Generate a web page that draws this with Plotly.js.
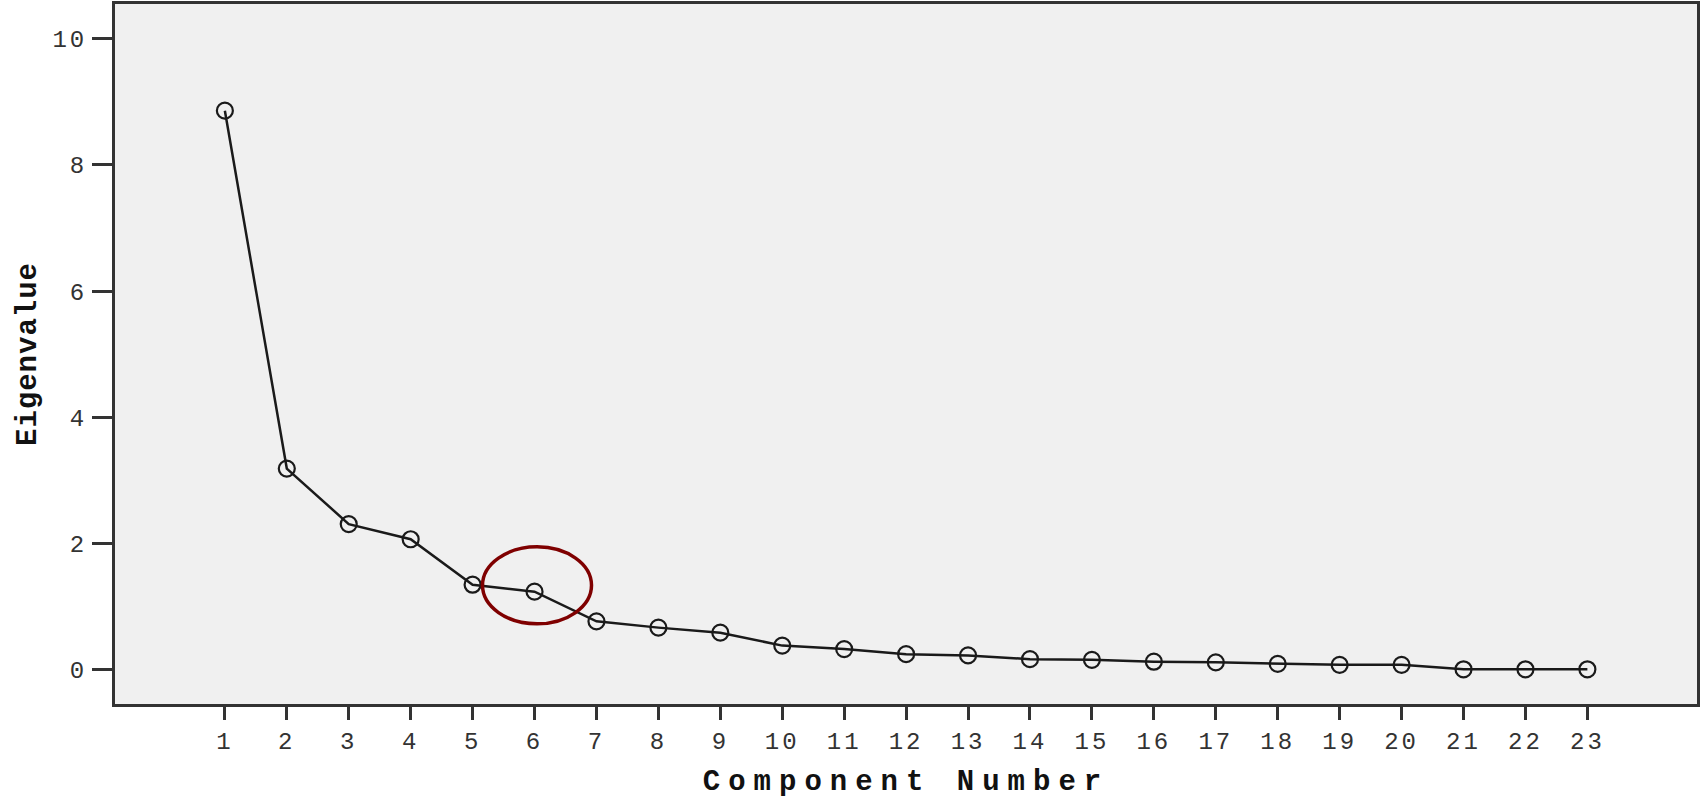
<!DOCTYPE html>
<html>
<head>
<meta charset="utf-8">
<script src="https://cdn.plot.ly/plotly-3.0.1.min.js"></script>
<style>
  html, body { margin: 0; padding: 0; background: #ffffff; }
  #chart { width: 1704px; height: 799px; }
  .xtick text, .ytick text { letter-spacing: 3px; }
  .g-xtitle text { letter-spacing: 8px; }
  .g-ytitle text { letter-spacing: 1px; }
</style>
</head>
<body>
<div id="chart"></div>
<script>
const componentNumber = [1, 2, 3, 4, 5, 6, 7, 8, 9, 10, 11, 12, 13, 14, 15, 16, 17, 18, 19, 20, 21, 22, 23];
const eigenvalue = [8.86, 3.19, 2.31, 2.07, 1.35, 1.24, 0.77, 0.67, 0.59, 0.385, 0.33, 0.25, 0.23, 0.17, 0.16, 0.13, 0.12, 0.095, 0.08, 0.08, 0.01, 0.01, 0.01];
const yTickValues = [0, 2, 4, 6, 8, 10];
const xTickLabels = componentNumber.map(String);
const highlightedComponent = 6;
const highlightedEigenvalue = 1.34;

const trace = {
  x: componentNumber,
  y: eigenvalue,
  type: 'scatter',
  mode: 'lines+markers',
  line: { color: '#1a1a1a', width: 2.5 },
  marker: { symbol: 'circle-open', size: 16, color: '#1a1a1a', line: { width: 2.2, color: '#1a1a1a' } },
  hoverinfo: 'x+y',
  showlegend: false
};

const tickFont = { family: 'Liberation Mono, DejaVu Sans Mono, monospace', size: 24, color: '#333333' };
const titleFont = { family: 'Liberation Mono, DejaVu Sans Mono, monospace', size: 29, color: '#111111', weight: 'bold' };

const layout = {
  width: 1704,
  height: 799,
  paper_bgcolor: '#ffffff',
  plot_bgcolor: '#f0f0f0',
  margin: { l: 115, r: 7, t: 4, b: 95 },
  showlegend: false,
  xaxis: {
    range: [-0.774, 24.77],
    tickmode: 'array',
    tickvals: componentNumber,
    ticktext: xTickLabels,
    ticks: 'outside',
    ticklen: 13,
    tickwidth: 3,
    tickcolor: '#333333',
    showgrid: false,
    zeroline: false,
    showline: true,
    linewidth: 3,
    linecolor: '#333333',
    mirror: true,
    tickfont: tickFont,
    automargin: false,
    title: { text: 'Component Number', font: titleFont, standoff: 18 }
  },
  yaxis: {
    range: [-0.54, 10.55],
    tickmode: 'array',
    tickvals: yTickValues,
    ticktext: yTickValues.map(String),
    ticks: 'outside',
    ticklen: 20,
    tickwidth: 3,
    tickcolor: '#333333',
    showgrid: false,
    zeroline: false,
    showline: true,
    linewidth: 3,
    linecolor: '#333333',
    mirror: true,
    tickfont: tickFont,
    automargin: false,
    title: { text: 'Eigenvalue', font: titleFont, standoff: 8 }
  },
  shapes: [{
    type: 'circle',
    xref: 'x', yref: 'y',
    x0: highlightedComponent - 0.84, x1: highlightedComponent + 0.92,
    y0: highlightedEigenvalue - 0.61, y1: highlightedEigenvalue + 0.61,
    line: { color: '#7f0000', width: 3.5 },
    fillcolor: 'rgba(0,0,0,0)'
  }]
};

Plotly.newPlot('chart', [trace], layout, { displayModeBar: false, staticPlot: true });
</script>
</body>
</html>
